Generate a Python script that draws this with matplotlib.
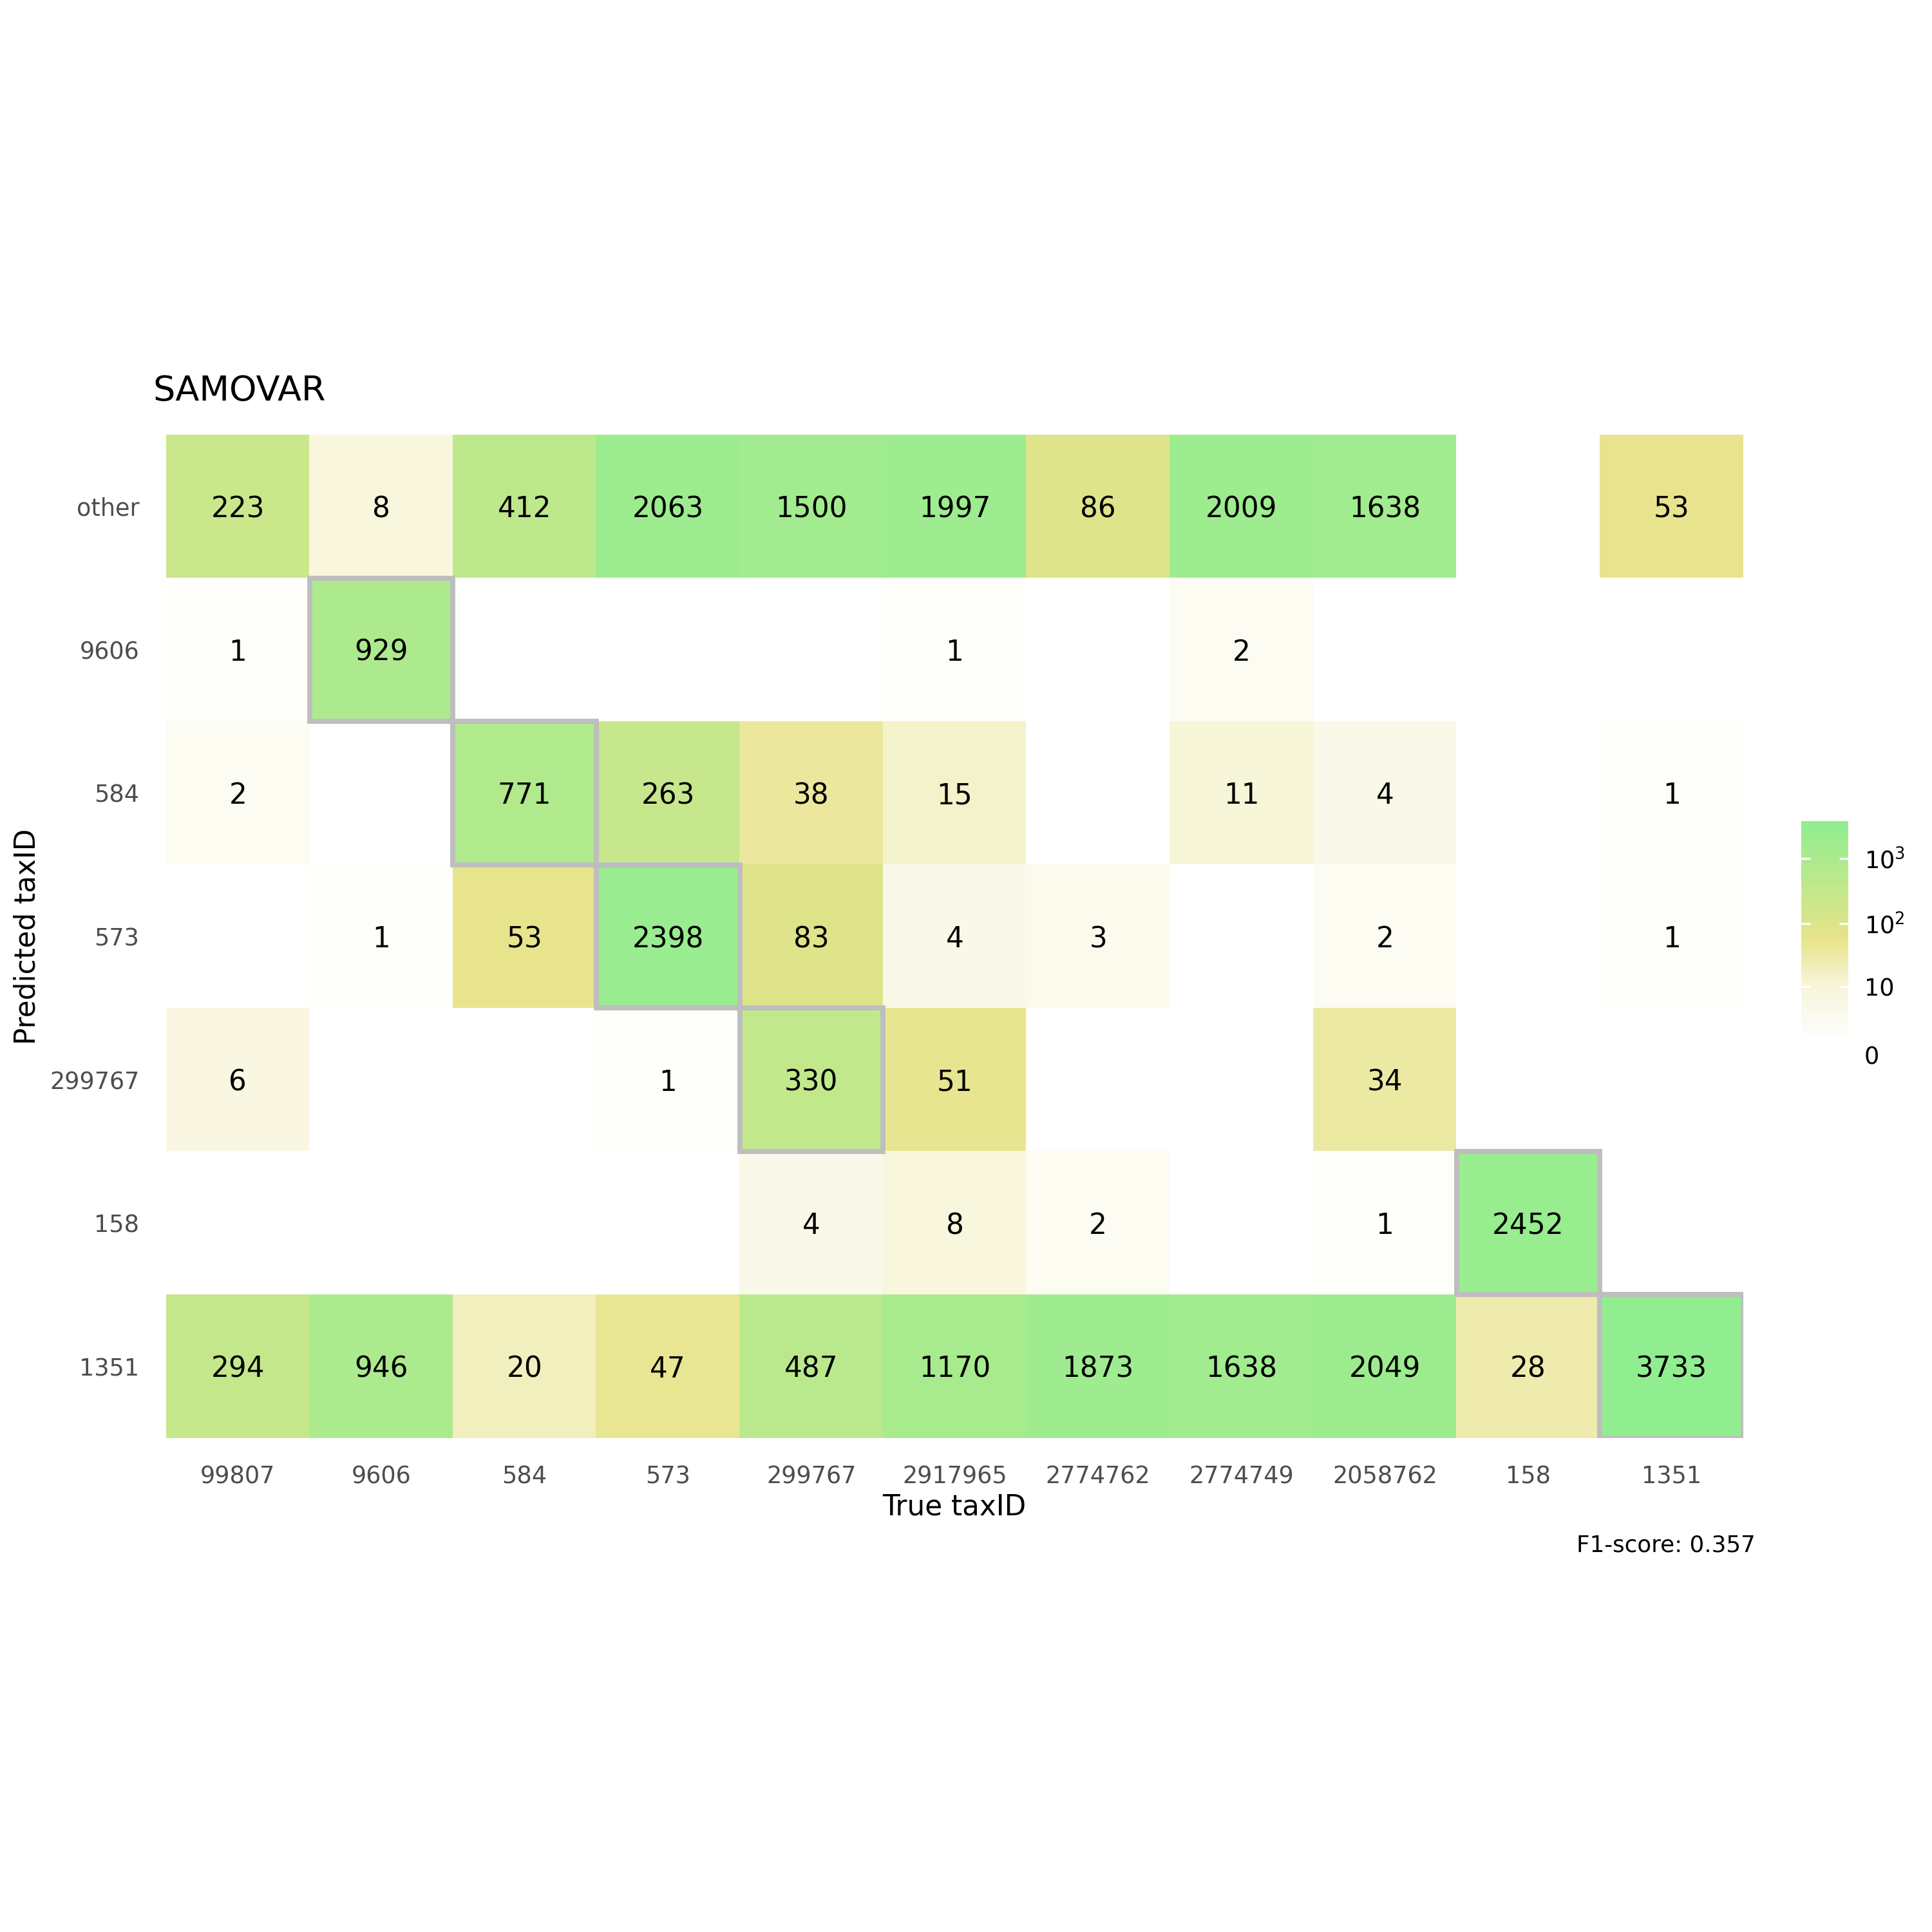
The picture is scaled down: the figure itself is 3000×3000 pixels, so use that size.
import numpy as np
import matplotlib
matplotlib.use("Agg")
import matplotlib.pyplot as plt
from matplotlib.colors import LinearSegmentedColormap, Normalize
from matplotlib.patches import Rectangle

# etiquetas de los ejes
true_ids = ["99807", "9606", "584", "573", "299767", "2917965",
            "2774762", "2774749", "2058762", "158", "1351"]
pred_ids = ["other", "9606", "584", "573", "299767", "158", "1351"]

nan = np.nan
# conteos, una fila por taxID predicho (de arriba a abajo)
row_other = [223, 8, 412, 2063, 1500, 1997, 86, 2009, 1638, nan, 53]
row_9606 = [1, 929, nan, nan, nan, 1, nan, 2, nan, nan, nan]
row_584 = [2, nan, 771, 263, 38, 15, nan, 11, 4, nan, 1]
row_573 = [nan, 1, 53, 2398, 83, 4, 3, nan, 2, nan, 1]
row_299767 = [6, nan, nan, 1, 330, 51, nan, nan, 34, nan, nan]
row_158 = [nan, nan, nan, nan, 4, 8, 2, nan, 1, 2452, nan]
row_1351 = [294, 946, 20, 47, 487, 1170, 1873, 1638, 2049, 28, 3733]

titulo = "SAMOVAR"
f1 = 0.357

conteos = np.array([row_other, row_9606, row_584, row_573,
                    row_299767, row_158, row_1351], dtype=float)
trans = np.log10(conteos + 1)
vmin = np.nanmin(trans)
vmax = np.nanmax(trans)

cmap = LinearSegmentedColormap.from_list(
    "khaki_green", [(0.0, "#FEFEFB"), (0.24, "#F7F5D8"), (0.40, "#EBE89C"),
                    (0.45, "#E7E48A"), (1.0, "#90EE90")])
cmap.set_bad("white")
norm = Normalize(vmin=vmin, vmax=vmax)

W = H = 3000
fig = plt.figure(figsize=(10, 10), dpi=300)
ax = fig.add_axes([258 / W, 1 - 2233 / H, (2707 - 258) / W, (2233 - 675) / H])

ax.imshow(np.ma.masked_invalid(trans), cmap=cmap, norm=norm,
          aspect="auto", interpolation="nearest")

# valores dentro de cada celda
for i in range(len(pred_ids)):
    for j in range(len(true_ids)):
        v = conteos[i, j]
        if not np.isnan(v):
            ax.text(j, i, str(int(v)), ha="center", va="center_baseline",
                    fontsize=10.5, color="black")

# marcos en la diagonal (predicho == verdadero)
for i, p in enumerate(pred_ids):
    if p in true_ids:
        j = true_ids.index(p)
        ax.add_patch(Rectangle((j - 0.5, i - 0.5), 1, 1, fill=False,
                               edgecolor="#BEBEBE", linewidth=1.9, zorder=3))

ax.set_xticks(range(len(true_ids)))
ax.set_xticklabels(true_ids)
ax.set_yticks(range(len(pred_ids)))
ax.set_yticklabels(pred_ids)
ax.tick_params(length=0, labelsize=8.8, labelcolor="#4D4D4D")
ax.tick_params(axis="x", pad=10)
ax.tick_params(axis="y", pad=10)
for s in ax.spines.values():
    s.set_visible(False)
ax.set_xlim(-0.5, len(true_ids) - 0.5)
ax.set_ylim(len(pred_ids) - 0.5, -0.5)

fig.text(237 / W, 1 - 607 / H, titulo, fontsize=13, ha="left", va="center")
fig.text(1482 / W, 1 - 2340 / H, "True taxID", fontsize=10.5,
         ha="center", va="center")
fig.text(42 / W, 1 - 1454 / H, "Predicted taxID", fontsize=10.5,
         ha="center", va="center", rotation=90)
fig.text(2726 / W, 1 - 2399 / H, "F1-score: %.3f" % f1, fontsize=8.6,
         ha="right", va="center")

# barra de color (escala log10(x+1))
cax = fig.add_axes([2797 / W, 1 - 1638 / H, (2870 - 2797) / W, (1638 - 1275) / H])
grad = np.linspace(vmin, vmax, 256).reshape(-1, 1)
cax.imshow(grad, cmap=cmap, norm=norm, aspect="auto", origin="lower",
           extent=[0, 1, vmin, vmax])
cax.set_xlim(0, 1)
cax.set_ylim(0, vmax)
cb_vals = [0, 10, 100, 1000]
cb_labels = ["0", "10", "$10^2$", "$10^3$"]
cax.set_yticks(np.log10(np.array(cb_vals) + 1))
cax.set_yticklabels(cb_labels)
cax.set_xticks([])
cax.yaxis.set_ticks_position("both")
cax.tick_params(axis="y", direction="in", length=3.4, width=0.8, color="white",
                labelleft=False, labelright=True, labelsize=8.8, pad=6)
for s in cax.spines.values():
    s.set_visible(False)

fig.savefig("out.png", dpi=300, facecolor="white")
